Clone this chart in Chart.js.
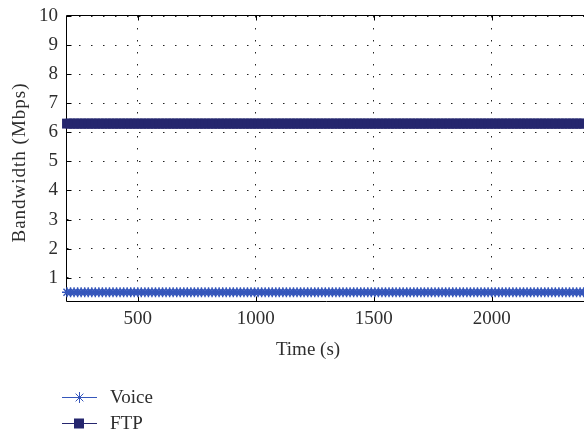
<!DOCTYPE html>
<html><head><meta charset="utf-8">
<script src="https://cdn.jsdelivr.net/npm/chart.js@4/dist/chart.umd.min.js"></script>
<style>html,body{margin:0;padding:0;background:#fff;overflow:hidden;width:584px;height:436px}canvas{display:block}</style>
</head><body>
<canvas id="c" width="600" height="436"></canvas>
<script>
const timeSec = [
200,215,230,245,260,275,290,305,320,335,
350,365,380,395,410,425,440,455,470,485,
500,515,530,545,560,575,590,605,620,635,
650,665,680,695,710,725,740,755,770,785,
800,815,830,845,860,875,890,905,920,935,
950,965,980,995,1010,1025,1040,1055,1070,1085,
1100,1115,1130,1145,1160,1175,1190,1205,1220,1235,
1250,1265,1280,1295,1310,1325,1340,1355,1370,1385,
1400,1415,1430,1445,1460,1475,1490,1505,1520,1535,
1550,1565,1580,1595,1610,1625,1640,1655,1670,1685,
1700,1715,1730,1745,1760,1775,1790,1805,1820,1835,
1850,1865,1880,1895,1910,1925,1940,1955,1970,1985,
2000,2015,2030,2045,2060,2075,2090,2105,2120,2135,
2150,2165,2180,2195,2210,2225,2240,2255,2270,2285,
2300,2315,2330,2345,2360,2375,2390];
const voiceMbps = [
0.5,0.5,0.5,0.5,0.5,0.5,0.5,0.5,0.5,0.5,
0.5,0.5,0.5,0.5,0.5,0.5,0.5,0.5,0.5,0.5,
0.5,0.5,0.5,0.5,0.5,0.5,0.5,0.5,0.5,0.5,
0.5,0.5,0.5,0.5,0.5,0.5,0.5,0.5,0.5,0.5,
0.5,0.5,0.5,0.5,0.5,0.5,0.5,0.5,0.5,0.5,
0.5,0.5,0.5,0.5,0.5,0.5,0.5,0.5,0.5,0.5,
0.5,0.5,0.5,0.5,0.5,0.5,0.5,0.5,0.5,0.5,
0.5,0.5,0.5,0.5,0.5,0.5,0.5,0.5,0.5,0.5,
0.5,0.5,0.5,0.5,0.5,0.5,0.5,0.5,0.5,0.5,
0.5,0.5,0.5,0.5,0.5,0.5,0.5,0.5,0.5,0.5,
0.5,0.5,0.5,0.5,0.5,0.5,0.5,0.5,0.5,0.5,
0.5,0.5,0.5,0.5,0.5,0.5,0.5,0.5,0.5,0.5,
0.5,0.5,0.5,0.5,0.5,0.5,0.5,0.5,0.5,0.5,
0.5,0.5,0.5,0.5,0.5,0.5,0.5,0.5,0.5,0.5,
0.5,0.5,0.5,0.5,0.5,0.5,0.5];
const ftpMbps = [
6.3,6.3,6.3,6.3,6.3,6.3,6.3,6.3,6.3,6.3,
6.3,6.3,6.3,6.3,6.3,6.3,6.3,6.3,6.3,6.3,
6.3,6.3,6.3,6.3,6.3,6.3,6.3,6.3,6.3,6.3,
6.3,6.3,6.3,6.3,6.3,6.3,6.3,6.3,6.3,6.3,
6.3,6.3,6.3,6.3,6.3,6.3,6.3,6.3,6.3,6.3,
6.3,6.3,6.3,6.3,6.3,6.3,6.3,6.3,6.3,6.3,
6.3,6.3,6.3,6.3,6.3,6.3,6.3,6.3,6.3,6.3,
6.3,6.3,6.3,6.3,6.3,6.3,6.3,6.3,6.3,6.3,
6.3,6.3,6.3,6.3,6.3,6.3,6.3,6.3,6.3,6.3,
6.3,6.3,6.3,6.3,6.3,6.3,6.3,6.3,6.3,6.3,
6.3,6.3,6.3,6.3,6.3,6.3,6.3,6.3,6.3,6.3,
6.3,6.3,6.3,6.3,6.3,6.3,6.3,6.3,6.3,6.3,
6.3,6.3,6.3,6.3,6.3,6.3,6.3,6.3,6.3,6.3,
6.3,6.3,6.3,6.3,6.3,6.3,6.3,6.3,6.3,6.3,
6.3,6.3,6.3,6.3,6.3,6.3,6.3];
const seriesNames = ['Voice', 'FTP'];
const xTickValues = [500, 1000, 1500, 2000];
const yTickValues = [1, 2, 3, 4, 5, 6, 7, 8, 9, 10];
const xTitle = 'Time (s)';
const yTitle = 'Bandwidth (Mbps)';

const voiceColor = '#3556bb';
const ftpColor = '#25266e';
const textColor = '#2e2e2e';
const fontFamily = '"Liberation Serif", "Times New Roman", serif';

function drawStar(ctx, x, y, r) {
  ctx.beginPath();
  for (let k = 0; k < 4; k++) {
    const a = k * Math.PI / 4;
    ctx.moveTo(x - Math.cos(a) * r, y - Math.sin(a) * r);
    ctx.lineTo(x + Math.cos(a) * r, y + Math.sin(a) * r);
  }
  ctx.stroke();
}

const framePlugin = {
  id: 'frame',
  beforeDatasetsDraw(chart) {
    const {ctx, chartArea: a, scales} = chart;
    ctx.save();
    ctx.strokeStyle = '#000';
    ctx.lineWidth = 1;
    const L = Math.round(a.left) - 0.5, B = Math.round(a.bottom) + 0.5, T = Math.round(a.top) - 0.5, R = Math.round(a.right) + 0.5;
    ctx.beginPath();
    ctx.moveTo(L, T); ctx.lineTo(R, T);
    ctx.moveTo(L, T); ctx.lineTo(L, B);
    ctx.moveTo(L, B); ctx.lineTo(R, B);
    ctx.moveTo(R, T); ctx.lineTo(R, B);
    yTickValues.forEach(v => {
      const y = Math.round(scales.y.getPixelForValue(v)) + 0.5;
      ctx.moveTo(L, y); ctx.lineTo(L + 5, y);
    });
    xTickValues.forEach(v => {
      const x = Math.round(scales.x.getPixelForValue(v)) + 0.5;
      ctx.moveTo(x, B); ctx.lineTo(x, B - 5);
      ctx.moveTo(x, T); ctx.lineTo(x, T + 5);
    });
    ctx.stroke();
    ctx.restore();
  },
  afterDraw(chart) {
    const {ctx, chartArea: a} = chart;
    ctx.save();
    ctx.fillStyle = textColor;
    ctx.font = '19px ' + fontFamily;
    ctx.textAlign = 'center';
    ctx.textBaseline = 'alphabetic';
    ctx.fillText(xTitle, 308, 355);
    ctx.save();
    ctx.translate(20, (a.top + a.bottom) / 2 + 4);
    ctx.rotate(-Math.PI / 2);
    ctx.textAlign = 'center';
    ctx.textBaseline = 'middle';
    try { ctx.letterSpacing = '1px'; } catch (e) {}
    ctx.fillText(yTitle, 0, 0);
    ctx.restore();
    const rows = [{y: 397, color: voiceColor, kind: 'star'}, {y: 423, color: ftpColor, kind: 'rect'}];
    rows.forEach((r, i) => {
      ctx.strokeStyle = r.color;
      ctx.fillStyle = r.color;
      ctx.lineWidth = 1;
      ctx.beginPath();
      ctx.moveTo(62, r.y + 0.5); ctx.lineTo(97, r.y + 0.5);
      ctx.stroke();
      if (r.kind === 'star') {
        drawStar(ctx, 79.5, r.y + 0.5, 5.5);
      } else {
        ctx.fillRect(74, r.y - 4.5, 10, 10);
      }
      ctx.fillStyle = textColor;
      ctx.textAlign = 'left';
      ctx.textBaseline = 'middle';
      ctx.fillText(seriesNames[i], 110, r.y + 1);
    });
    ctx.restore();
  }
};

const voicePoints = timeSec.map((t, i) => ({x: t, y: voiceMbps[i]}));
const ftpPoints = timeSec.map((t, i) => ({x: t, y: ftpMbps[i]}));

new Chart(document.getElementById('c'), {
  type: 'line',
  data: {
    datasets: [
      {label: seriesNames[0], data: voicePoints, borderColor: voiceColor, backgroundColor: voiceColor,
       borderWidth: 1, pointStyle: 'star', pointRadius: 5, pointBorderWidth: 1.4, clip: false, fill: false},
      {label: seriesNames[1], data: ftpPoints, borderColor: ftpColor, backgroundColor: ftpColor,
       borderWidth: 1, pointStyle: 'rect', pointRadius: 7, pointBorderWidth: 0, clip: false, fill: false}
    ]
  },
  options: {
    responsive: false,
    animation: false,
    events: [],
    layout: {padding: {top: 16, right: 14, left: 0, bottom: 0}},
    plugins: {legend: {display: false}, tooltip: {enabled: false}},
    scales: {
      x: {
        type: 'linear', min: 200, max: 2400,
        afterBuildTicks: s => { s.ticks = xTickValues.map(v => ({value: v})); },
        afterFit: s => { s.height = 135; },
        grid: {color: '#222', lineWidth: 1, drawTicks: false},
        border: {display: false, dash: [1.5, 10.5]},
        ticks: {padding: 7, color: textColor, font: {family: fontFamily, size: 19}, maxRotation: 0, autoSkip: false,
                callback: v => String(v)}
      },
      y: {
        type: 'linear', min: 0.2, max: 10,
        afterBuildTicks: s => { s.ticks = yTickValues.map(v => ({value: v})); },
        afterFit: s => { s.width = 67; s.paddingTop = 0; s.paddingBottom = 0; },
        grid: {color: '#222', lineWidth: 1, drawTicks: false},
        border: {display: false, dash: [1.5, 10.5]},
        ticks: {padding: 9, color: textColor, font: {family: fontFamily, size: 19, lineHeight: 1}, autoSkip: false,
                callback: v => String(v)}
      }
    }
  },
  plugins: [framePlugin]
});
</script>
</body></html>
